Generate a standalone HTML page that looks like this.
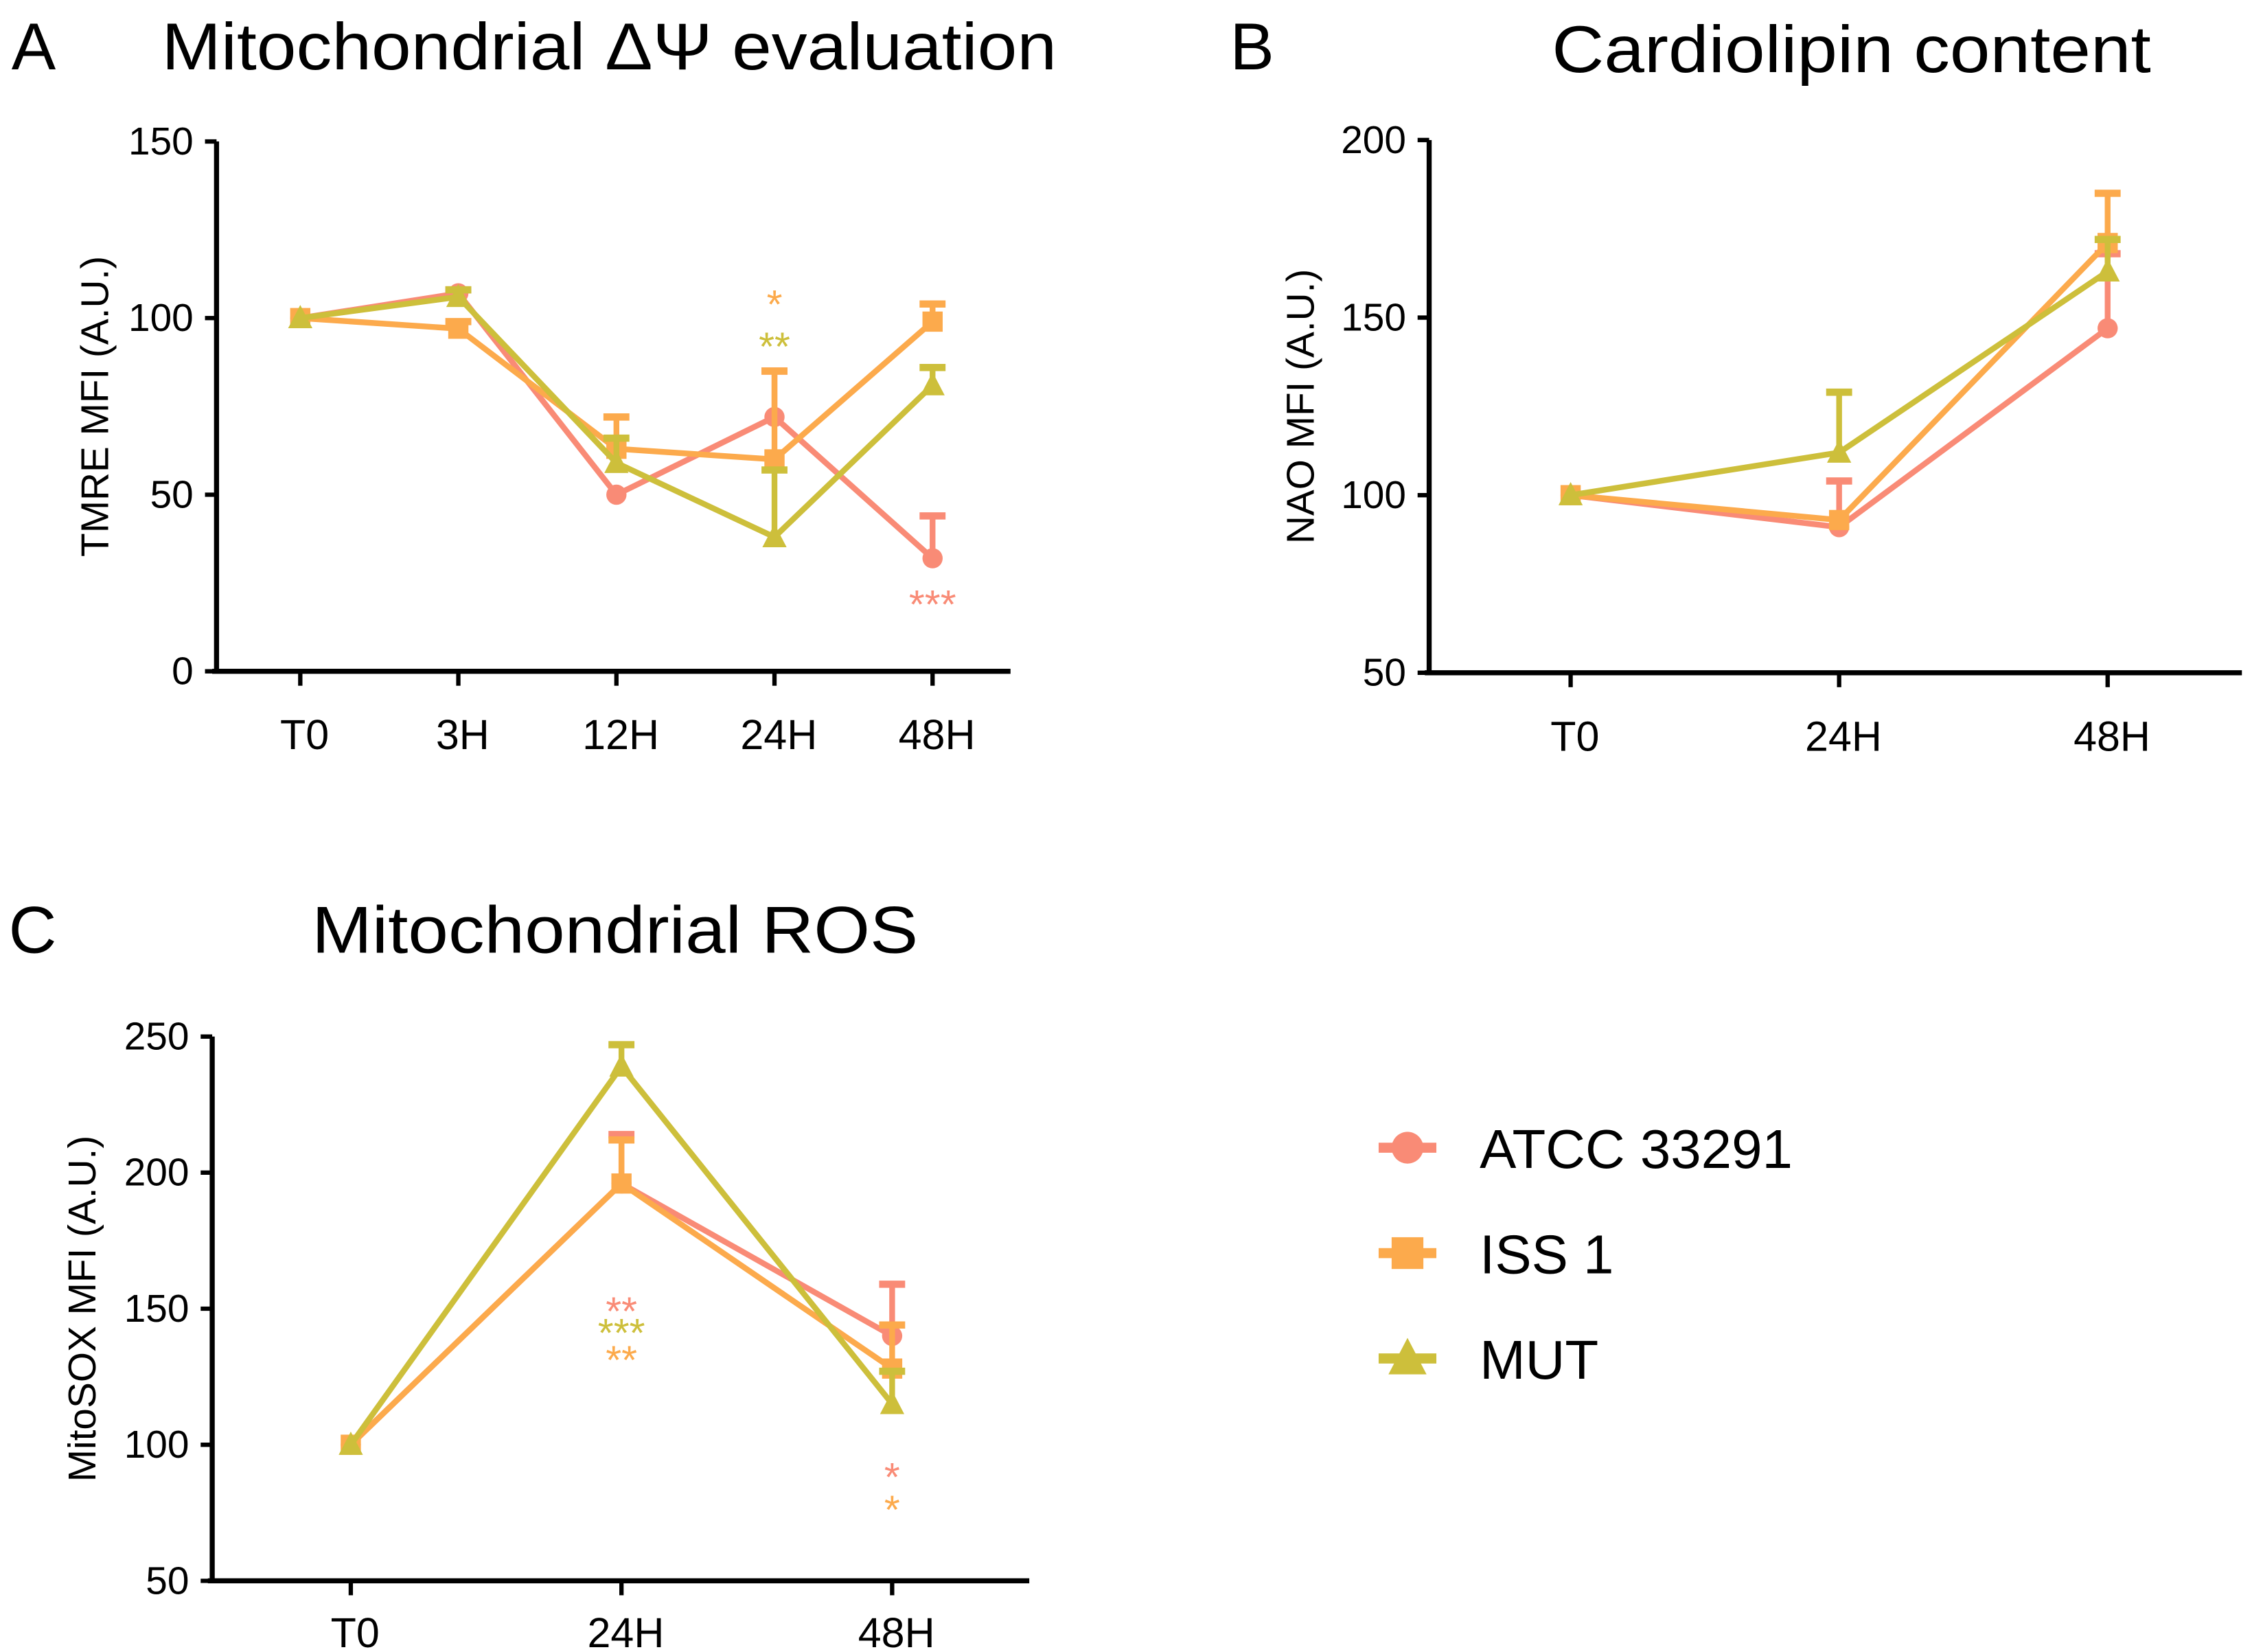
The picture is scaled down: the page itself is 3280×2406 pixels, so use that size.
<!DOCTYPE html>
<html><head><meta charset="utf-8"><style>
html,body{margin:0;padding:0;background:#fff;overflow:hidden;}
svg{display:block;font-family:"Liberation Sans",sans-serif;}
</style></head><body>
<svg id="fig" width="3280" height="2406" viewBox="0 0 1560 1144.3" preserveAspectRatio="none" xmlns="http://www.w3.org/2000/svg">
<text x="8" y="48" font-size="46">A</text>
<text x="112" y="48" font-size="46" textLength="620" lengthAdjust="spacingAndGlyphs">Mitochondrial ΔΨ evaluation</text>
<text x="852" y="48" font-size="46">B</text>
<text x="1075" y="50" font-size="46" textLength="415" lengthAdjust="spacingAndGlyphs">Cardiolipin content</text>
<text x="6" y="660" font-size="46">C</text>
<text x="216" y="660" font-size="46" textLength="420" lengthAdjust="spacingAndGlyphs">Mitochondrial ROS</text>
<g id="legend"></g>
</svg>
<script>
const seriesNames = ["ATCC 33291","ISS 1","MUT"];
const colors = ["#f98b76","#fcaa4c","#cdbf3b"];
const markers = ["circle","square","triangle"];

const catsA = ["T0","3H","12H","24H","48H"];
const ticksA = [0,50,100,150];
const atccA = [100,107,50,72,32];
const atccAerr = [0,1,0,13,12];
const issA = [100,97,63,60,99];
const issAerr = [0,2,9,25,5];
const mutA = [100,106,59,38,81];
const mutAerr = [0,2,7,19,5];

const catsB = ["T0","24H","48H"];
const ticksB = [50,100,150,200];
const atccB = [100,91,147];
const atccBerr = [0,13,21];
const issB = [100,93,171];
const issBerr = [0,0,14];
const mutB = [100,112,163];
const mutBerr = [0,17,9];

const catsC = ["T0","24H","48H"];
const ticksC = [50,100,150,200,250];
const atccC = [100,196,140];
const atccCerr = [0,18,19];
const issC = [100,196,128];
const issCerr = [0,16,16];
const mutC = [100,239,115];
const mutCerr = [0,8,12];

const NS="http://www.w3.org/2000/svg";
const svg=document.getElementById('fig');
function mk(tag,attrs,parent){const e=document.createElementNS(NS,tag);for(const k in attrs)e.setAttribute(k,attrs[k]);(parent||svg).appendChild(e);return e;}

function marker(g,type,x,y,c,s){
  if(type==="circle") return mk('circle',{cx:x,cy:y,r:s,fill:c},g);
  if(type==="square") return mk('rect',{x:x-s,y:y-s,width:2*s,height:2*s,fill:c},g);
  return mk('polygon',{points:`${x},${y-s*1.3} ${x-s*1.2},${y+s} ${x+s*1.2},${y+s}`,fill:c},g);
}

function panel(id,cfg){
  const g=mk('g',{});
  
  
  const {x0,x1,yTop,yBot,vMin,vMax,cats,xs,ticks,ytitle,ytx,series,stars,lblOff}=cfg;
  const ys=v=>yBot-(v-vMin)/(vMax-vMin)*(yBot-yTop);
  const xp=i=>xs[0]+i*(xs[1]-xs[0])/(cats.length-1);
  const ya=mk('line',{x1:x0,y1:yTop,x2:x0,y2:yBot,stroke:'#000','stroke-width':3.5},g);
  
  const xa=mk('line',{x1:x0-3,y1:yBot,x2:x1,y2:yBot,stroke:'#000','stroke-width':3.5},g);
  
  ticks.forEach(t=>{
    mk('line',{x1:x0-8,y1:ys(t),x2:x0,y2:ys(t),stroke:'#000','stroke-width':3},g);
    const tx=mk('text',{x:x0-16,y:ys(t)+9,'font-size':27,'text-anchor':'end'},g);tx.textContent=t;
    
  });
  cats.forEach((c,i)=>{
    mk('line',{x1:xp(i),y1:yBot,x2:xp(i),y2:yBot+10,stroke:'#000','stroke-width':3},g);
    const tx=mk('text',{x:xp(i)+3,y:yBot+lblOff,'font-size':29,'text-anchor':'middle'},g);tx.textContent=c;
    
  });
  const yt=mk('text',{x:0,y:0,'font-size':27,'text-anchor':'middle',transform:`translate(${ytx},${(yTop+yBot)/2}) rotate(-90)`},g);
  yt.textContent=ytitle;
  series.forEach((s,si)=>{
    const c=colors[si];
    const sg=mk('g',{},g);
    
    
    s.err.forEach((e,i)=>{ if(e>0){
      const x=xp(i),y=ys(s.v[i]),ye=ys(s.v[i]+e);
      mk('line',{x1:x,y1:y,x2:x,y2:ye,stroke:c,'stroke-width':4},sg);
      mk('line',{x1:x-9,y1:ye,x2:x+9,y2:ye,stroke:c,'stroke-width':5},sg);
    }});
    mk('polyline',{points:s.v.map((v,i)=>xp(i)+','+ys(v)).join(' '),fill:'none',stroke:c,'stroke-width':4,'stroke-linejoin':'round'},sg);
    s.v.forEach((v,i)=>{const m=marker(sg,markers[si],xp(i),ys(v),c,7);
      });
  });
  (stars||[]).forEach(st=>{
    const t=mk('text',{x:xp(st.i),y:ys(st.v),'font-size':28,'text-anchor':'middle',fill:colors[st.s]},g);
    t.textContent=st.t;
  });
}

panel('panel-a',{x0:150,x1:700,yTop:98,yBot:465,vMin:0,vMax:150,cats:catsA,xs:[208,646],ticks:ticksA,ytitle:'TMRE MFI (A.U.)',ytx:75,lblOff:54,
  series:[{v:atccA,err:atccAerr},{v:issA,err:issAerr},{v:mutA,err:mutAerr}],
  stars:[{i:3,v:100,s:1,t:'*'},{i:3,v:88,s:2,t:'**'},{i:4,v:15,s:0,t:'***'}]});
panel('panel-b',{x0:990,x1:1553,yTop:97,yBot:466,vMin:50,vMax:200,cats:catsB,xs:[1088,1460],ticks:ticksB,ytitle:'NAO MFI (A.U.)',ytx:910,lblOff:54,
  series:[{v:atccB,err:atccBerr},{v:issB,err:issBerr},{v:mutB,err:mutBerr}]});
panel('panel-c',{x0:147,x1:713,yTop:718,yBot:1095,vMin:50,vMax:250,cats:catsC,xs:[243,618],ticks:ticksC,ytitle:'MitoSOX MFI (A.U.)',ytx:66,lblOff:46,
  series:[{v:atccC,err:atccCerr},{v:issC,err:issCerr},{v:mutC,err:mutCerr}],
  stars:[{i:1,v:144,s:0,t:'**'},{i:1,v:136,s:2,t:'***'},{i:1,v:126,s:1,t:'**'},{i:2,v:83,s:0,t:'*'},{i:2,v:71,s:1,t:'*'}]});

const lg=document.getElementById('legend');
seriesNames.forEach((n,i)=>{
  const y=795+i*73;
  const e=mk('g',{},lg);
  
  
  mk('line',{x1:955,y1:y,x2:995,y2:y,stroke:colors[i],'stroke-width':7},e);
  marker(e,markers[i],975,y,colors[i],11);
  const t=mk('text',{x:1025,y:y+14,'font-size':38},e);t.textContent=n;
});
</script>
</body></html>
